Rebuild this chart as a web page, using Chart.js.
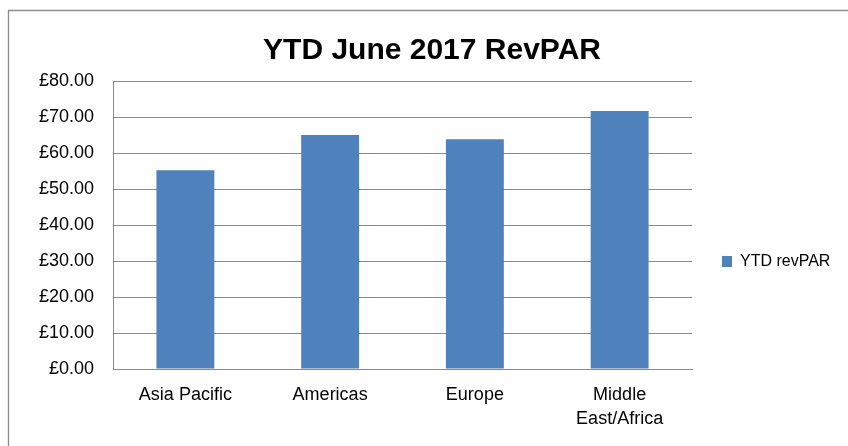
<!DOCTYPE html>
<html>
<head>
<meta charset="utf-8">
<script src="https://cdn.jsdelivr.net/npm/chart.js@4"></script>
<style>
  html, body { margin: 0; padding: 0; background: #ffffff; }
  #wrap { width: 848px; height: 446px; position: relative; }
</style>
</head>
<body>
<div id="wrap"><canvas id="c" width="848" height="446"></canvas></div>
<script>
const categories = ['Asia Pacific', 'Americas', 'Europe', ['Middle', 'East/Africa']];
const seriesName = 'YTD revPAR';
const revpar = [55.2, 65.0, 63.8, 71.7];
const yTicks = [0, 10, 20, 30, 40, 50, 60, 70, 80];
const titleText = 'YTD June 2017 RevPAR';

const FONT = "'Liberation Sans', Arial, sans-serif";
const GRID = '#8a8a8a';

const framePlugin = {
  id: 'frame',
  afterInit(chart) {
    const lg = chart.legend;
    if (lg) {
      const origFit = lg.fit.bind(lg);
      lg.fit = function () { origFit(); this.width = 156; };
    }
  },
  afterLayout(chart) {
    const lg = chart.legend;
    if (lg) {
      lg.left = 712; lg.right = 848;
      lg.top = 243.5; lg.bottom = 300;
    }
  },
  beforeDraw(chart) {
    const ctx = chart.ctx;
    ctx.save();
    ctx.fillStyle = '#ffffff';
    ctx.fillRect(0, 0, chart.width, chart.height);
    ctx.strokeStyle = '#8c8c8c';
    ctx.lineWidth = 1.3;
    ctx.beginPath();
    ctx.moveTo(8.5, chart.height);
    ctx.lineTo(8.5, 10.5);
    ctx.lineTo(chart.width, 10.5);
    ctx.stroke();
    ctx.restore();
  }
};

new Chart(document.getElementById('c'), {
  type: 'bar',
  data: {
    labels: categories,
    datasets: [{
      label: seriesName,
      data: revpar,
      backgroundColor: '#4F81BD',
      borderWidth: 0,
      barPercentage: 0.4,
      categoryPercentage: 1.0
    }]
  },
  options: {
    responsive: false,
    animation: false,
    layout: { padding: { left: 16, top: 0, right: 0, bottom: 0 } },
    plugins: {
      title: {
        display: true,
        text: titleText,
        color: '#000000',
        font: { family: FONT, size: 30, weight: 'bold', lineHeight: 1.2 },
        padding: { top: 33, bottom: 12 }
      },
      legend: {
        display: true,
        position: 'right',
        align: 'start',
        labels: {
          color: '#000000',
          font: { family: FONT, size: 16 },
          boxWidth: 10,
          boxHeight: 11,
          padding: 10
        }
      },
      tooltip: { enabled: false }
    },
    scales: {
      x: {
        grid: { display: false, drawTicks: false },
        border: { display: true, color: GRID, width: 1 },
        ticks: {
          color: '#000000',
          font: { family: FONT, size: 18, lineHeight: 1.33 },
          padding: 14,
          maxRotation: 0,
          autoSkip: false
        },
        afterFit(scale) { scale.height = 77; }
      },
      y: {
        min: 0,
        max: 80,
        grid: { color: GRID, lineWidth: 1, drawTicks: false },
        border: { display: true, color: GRID, width: 1 },
        afterBuildTicks(scale) { scale.ticks = yTicks.map(v => ({ value: v })); },
        ticks: {
          color: '#000000',
          font: { family: FONT, size: 18 },
          padding: 19,
          callback: (v) => '£' + Number(v).toFixed(2)
        },
        afterFit(scale) { scale.width = 97; }
      }
    }
  },
  plugins: [framePlugin]
});
</script>
</body>
</html>
